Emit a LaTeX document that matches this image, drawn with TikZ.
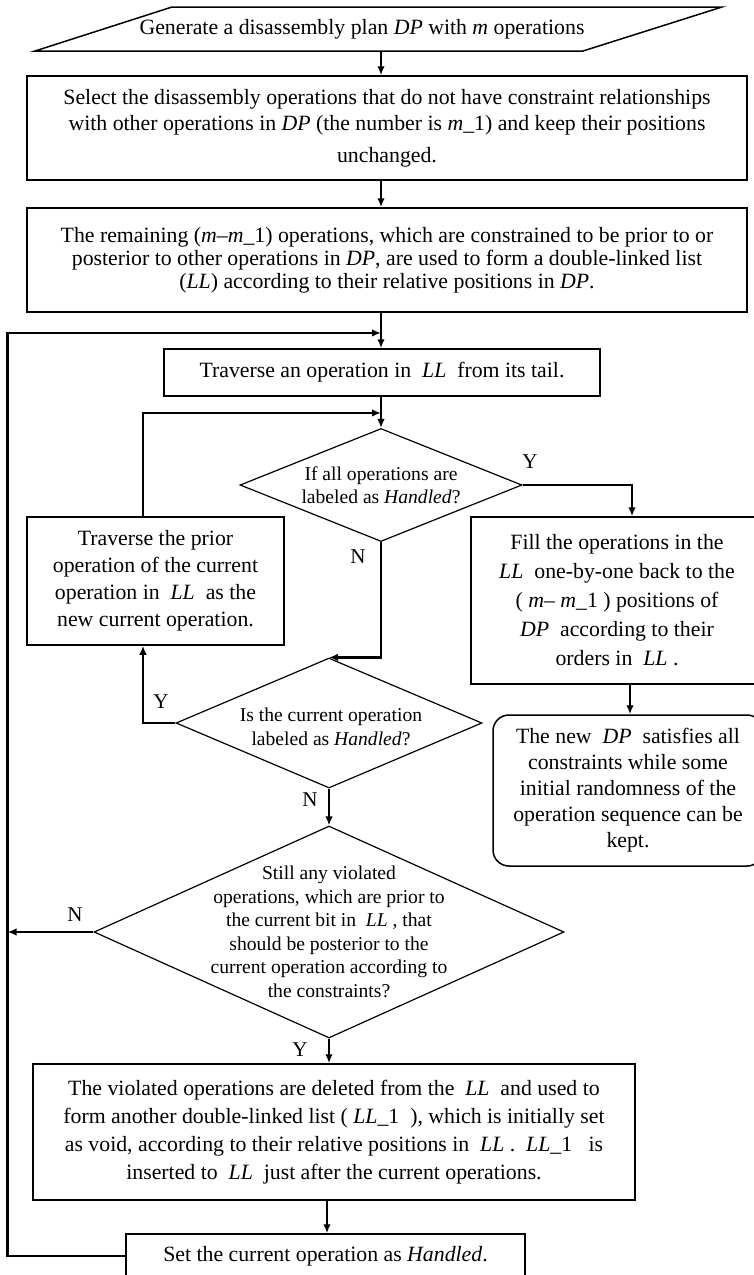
\documentclass[tikz,border=0pt]{standalone}
\usepackage{fontspec}
\setmainfont{Liberation Serif}
\usetikzlibrary{shapes.geometric,arrows.meta}
\tikzset{
  box/.style={draw, line width=1.5pt, rectangle, inner sep=0pt, align=center, font=\fontsize{21.8}{26}\selectfont},
  dia/.style={draw, line width=1.2pt, diamond, inner sep=0pt},
  dtext/.style={align=center, font=\fontsize{19.6}{23.5}\selectfont},
  conn/.style={line width=2.6pt},
  arr/.style={conn, -{Latex[length=9pt,width=7.5pt]}},
  yn/.style={font=\fontsize{21}{24}\selectfont},
}
\begin{document}
\begin{tikzpicture}[x=1pt,y=-1pt]
\fill[white] (0,0) rectangle (753,1275);
\useasboundingbox (0,0) rectangle (753,1275);
\coordinate (ax) at (381,0);
\coordinate (lx) at (7.5,0);
\coordinate (px) at (143,0);
\coordinate (rx) at (632,0);
\coordinate (tx) at (630,0);
\coordinate (bx) at (327,0);
\coordinate (j1) at (381,333);
\coordinate (j2) at (381,413);

% start parallelogram
\draw[line width=1.5pt] (172,7)--(722,7)--(583,51)--(35,51)--cycle;
\node[minimum width=548pt, minimum height=44pt, inner sep=0pt] (gen) at (378.5,29) {};
\node[font=\fontsize{21.8}{26}\selectfont, inner sep=0pt] (gentext) at (362,29) {Generate a disassembly plan \textit{DP} with \textit{m} operations};

\node[box, minimum width=720pt, minimum height=104pt] (b2) at (387,128)
  {Select the disassembly operations that do not have constraint relationships\\
   with other operations in \textit{DP} (the number is \textit{m}\_1) and keep their positions\\[6pt]
   unchanged.};

\node[box, minimum width=720pt, minimum height=104pt, font=\fontsize{21.8}{23}\selectfont] (b3) at (387,260)
  {The remaining (\textit{m}–\textit{m}\_1) operations, which are constrained to be prior to or\\
   posterior to other operations in \textit{DP}, are used to form a double-linked list\\
   (\textit{LL}) according to their relative positions in \textit{DP}.};

\node[box, minimum width=436pt, minimum height=47pt] (b4) at (382,372.5)
  {Traverse an operation in \ \textit{LL} \ from its tail.};

\node[dia, minimum width=282pt, minimum height=113pt] (d1) at (381,485) {};
\node[dtext] (d1t) at (d1) {If all operations are\\labeled as \textit{Handled}?};

\node[box, minimum width=257pt, minimum height=128pt, font=\fontsize{21.8}{27}\selectfont] (b5) at (155.5,581)
  {Traverse the prior\\operation of the current\\operation in \ \textit{LL} \ as the\\new current operation.};

\node[box, minimum width=292pt, minimum height=167pt, font=\fontsize{21.8}{29}\selectfont] (b6) at (617,600.5)
  {Fill the operations in the\\\textit{LL} \ one-by-one back to the\\( \textit{m}– \textit{m}\_1 ) positions of\\\textit{DP} \ according to their\\orders in \ \textit{LL} .};

\node[box, rounded corners=16pt, minimum width=270pt, minimum height=151pt] (term) at (628,790.5)
  {The new \ \textit{DP} \ satisfies all\\constraints while some\\initial randomness of the\\operation sequence can be\\kept.};

\node[dia, minimum width=306pt, minimum height=130pt] (d2) at (329,723) {};
\node[dtext] (d2t) at (331,727) {Is the current operation\\labeled as \textit{Handled}?};

\node[dia, minimum width=470pt, minimum height=212pt] (d3) at (329,932) {};
\node[dtext] (d3t) at (d3) {Still any violated\\operations, which are prior to\\the current bit in \ \textit{LL} , that\\should be posterior to the\\current operation according to\\the constraints?};

\node[box, minimum width=602pt, minimum height=136pt, font=\fontsize{21.8}{28}\selectfont] (b7) at (334,1132)
  {The violated operations are deleted from the \ \textit{LL} \ and used to\\
   form another double-linked list ( \textit{LL}\_1 \ ), which is initially set\\
   as void, according to their relative positions in \ \textit{LL} . \ \textit{LL}\_1 \ \ is\\
   inserted to \ \textit{LL} \ just after the current operations.};

\node[box, minimum width=399pt, minimum height=44pt] (b8) at (325.5,1256)
  {Set the current operation as \textit{Handled}.};

% connectors
\draw[arr] (gen.south -| ax) -- (b2.north -| ax);
\draw[arr] (b2.south -| ax) -- (b3.north -| ax);
\draw[arr] (b3.south -| ax) -- (b4.north -| ax);
\draw[arr] (b4.south -| ax) -- (d1.north);
\draw[arr] (d1.east) -| (b6.north -| rx);
\draw[arr] (d1.south) |- (d2.north);
\draw[arr] (d2.west) -| (b5.south -| px);
\draw[arr] (b5.north -| px) |- (j2);
\draw[arr] (b6.south -| tx) -- (term.north -| tx);
\draw[arr] (d2.south) -- (d3.north);
\draw[arr] (d3.west) -- (d3.west -| lx);
\draw[arr] (d3.south) -- (d3.south |- b7.north);
\draw[arr] (b7.south -| bx) -- (b8.north -| bx);
\draw[arr] (b8.west) -| (lx |- j1) -- (j1);

% labels
\node[yn] (l1) at (530,462) {Y};
\node[yn] (l2) at (358,557) {N};
\node[yn] (l3) at (161,702) {Y};
\node[yn] (l4) at (310,800) {N};
\node[yn] (l5) at (75,915) {N};
\node[yn] (l6) at (300,1050) {Y};
\end{tikzpicture}
\end{document}
